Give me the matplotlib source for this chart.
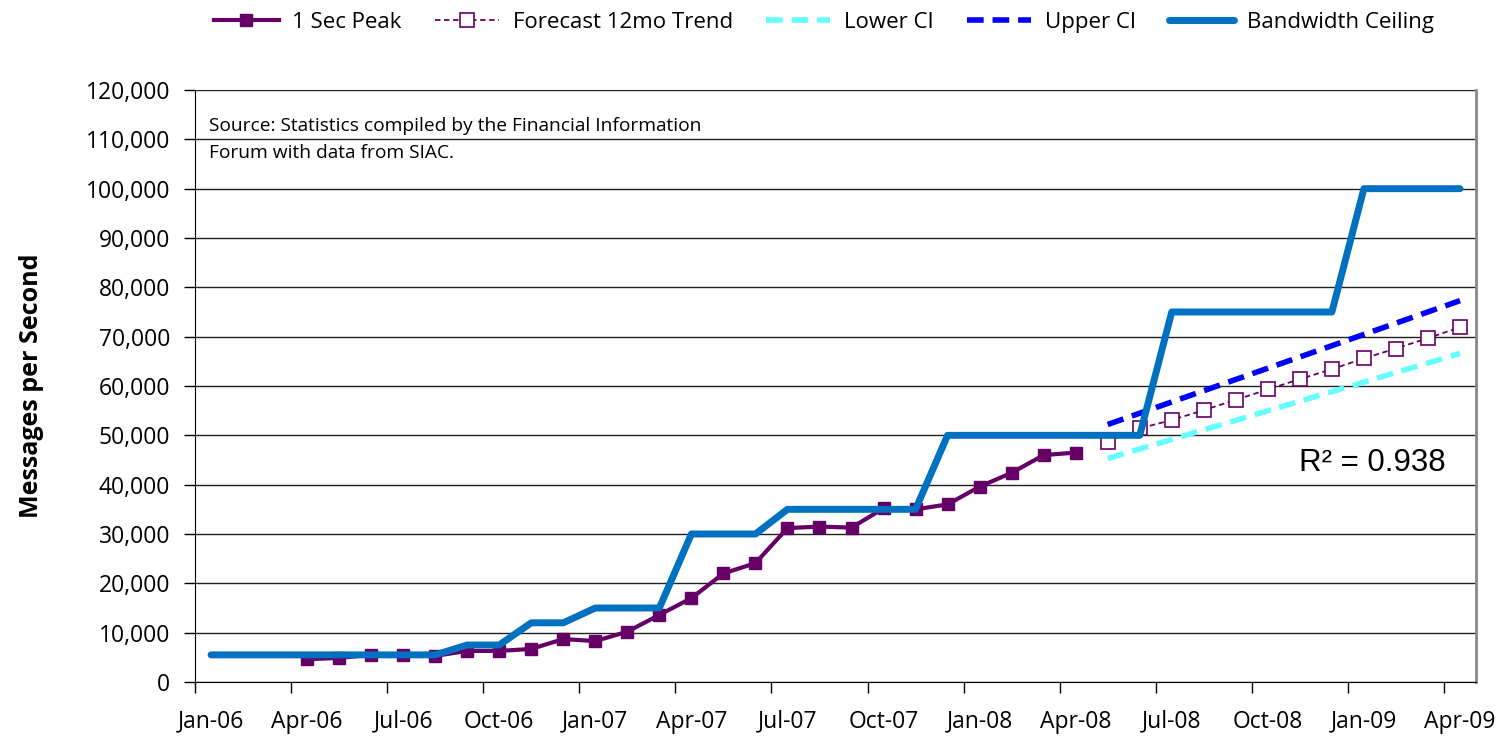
import matplotlib
matplotlib.use("Agg")
import matplotlib.pyplot as plt
from matplotlib.ticker import FuncFormatter, MultipleLocator, FixedLocator

# ---- data ----
months = ["Jan-06","Feb-06","Mar-06","Apr-06","May-06","Jun-06","Jul-06","Aug-06","Sep-06","Oct-06",
          "Nov-06","Dec-06","Jan-07","Feb-07","Mar-07","Apr-07","May-07","Jun-07","Jul-07","Aug-07",
          "Sep-07","Oct-07","Nov-07","Dec-07","Jan-08","Feb-08","Mar-08","Apr-08","May-08","Jun-08",
          "Jul-08","Aug-08","Sep-08","Oct-08","Nov-08","Dec-08","Jan-09","Feb-09","Mar-09","Apr-09"]

peak_start = 3  # Apr-06
peak_values = [4600, 4900, 5500, 5500, 5300, 6300, 6300, 6700, 8700, 8300, 10200, 13600,
               17000, 22000, 24100, 31200, 31500, 31300, 35200, 35000, 36000, 39600, 42400,
               46000, 46500]

forecast_start = 28  # May-08
forecast_values = [48700, 51400, 53100, 55100, 57200, 59300, 61400, 63400, 65600, 67600,
                   69700, 71900]

ci_months = [28, 39]
lower_ci = [45300, 66600]
upper_ci = [52200, 77300]

ceiling_values = [5500, 5500, 5500, 5500, 5500, 5500, 5500, 5500, 7500, 7500,
                  12000, 12000, 15000, 15000, 15000, 30000, 30000, 30000, 35000, 35000,
                  35000, 35000, 35000, 50000, 50000, 50000, 50000, 50000, 50000, 50000,
                  75000, 75000, 75000, 75000, 75000, 75000, 100000, 100000, 100000, 100000]

tick_labels = months[::3]
r2_text = "R² = 0.938"
source_text = "Source: Statistics compiled by the Financial Information\nForum with data from SIAC."

# ---- plot ----
plt.rcParams['font.family'] = ['Open Sans', 'DejaVu Sans']
fig = plt.figure(figsize=(15.01, 7.39), dpi=100)
ax = fig.add_axes([195/1501, 1-682/739, (1476-195)/1501, (682-90)/739])

x_all = list(range(len(months)))
x_peak = list(range(peak_start, peak_start + len(peak_values)))
x_fc = list(range(forecast_start, forecast_start + len(forecast_values)))

purple = "#660066"
l1, = ax.plot(x_peak, peak_values, color=purple, lw=3, marker='s', ms=8.5,
              label="1 Sec Peak", zorder=4)
l2, = ax.plot(x_fc, forecast_values, color=purple, lw=1.3, ls=(0, (3, 2)), marker='s',
              ms=9.5, mfc='white', mec=purple, mew=1.2, label="Forecast 12mo Trend", zorder=4)
l3, = ax.plot(ci_months, lower_ci, color="#66FFFF", lw=4, ls=(0, (3, 1.6)),
              label="Lower CI", zorder=3)
l4, = ax.plot(ci_months, upper_ci, color="#0000FF", lw=4, ls=(0, (3, 1.6)),
              label="Upper CI", zorder=3)
l5, = ax.plot(x_all, ceiling_values, color="#0070C0", lw=5, solid_capstyle='round',
              solid_joinstyle='round', label="Bandwidth Ceiling", zorder=5)

ax.set_xlim(-0.5, 39.5)
ax.set_ylim(0, 120000)
ax.yaxis.set_major_locator(MultipleLocator(10000))
ax.yaxis.set_major_formatter(FuncFormatter(lambda v, p: f"{int(v):,}"))
ax.grid(axis='y', color='#202020', lw=1)
ax.set_axisbelow(True)

ax.xaxis.set_major_locator(FixedLocator([i - 0.5 for i in range(0, 40, 3)]))
ax.xaxis.set_major_formatter(FuncFormatter(lambda v, p: ""))
ax.xaxis.set_minor_locator(FixedLocator(list(range(0, 40, 3))))
ax.set_xticklabels(tick_labels, minor=True)
ax.tick_params(axis='x', which='minor', length=0, labelsize=16.5, pad=20)
ax.tick_params(axis='x', which='major', length=8, width=1, direction='out', color='black')
ax.tick_params(axis='y', length=8, width=1, direction='out', labelsize=16.5, pad=10)

ax.spines['top'].set_visible(False)
ax.spines['right'].set_color('#888888')
ax.spines['right'].set_linewidth(2)
ax.spines['left'].set_color('black')
ax.spines['bottom'].set_color('black')

ax.set_ylabel("Messages per Second", fontsize=18, fontweight='bold', labelpad=30)

ax.text(0.011, 0.955, source_text, transform=ax.transAxes, fontsize=13.8,
        va='top', ha='left', linespacing=1.65)
ax.text(0.862, 0.37, r2_text, transform=ax.transAxes, fontsize=22.5,
        family=['Liberation Sans', 'DejaVu Sans'], ha='left', va='center')

fig.legend(handles=[l1, l2, l3, l4, l5], loc='center', bbox_to_anchor=(0.549, 0.97),
           ncol=5, frameon=False, fontsize=16, handlelength=2.9, columnspacing=1.5,
           handletextpad=0.6)

fig.savefig("out.png", dpi=100)
